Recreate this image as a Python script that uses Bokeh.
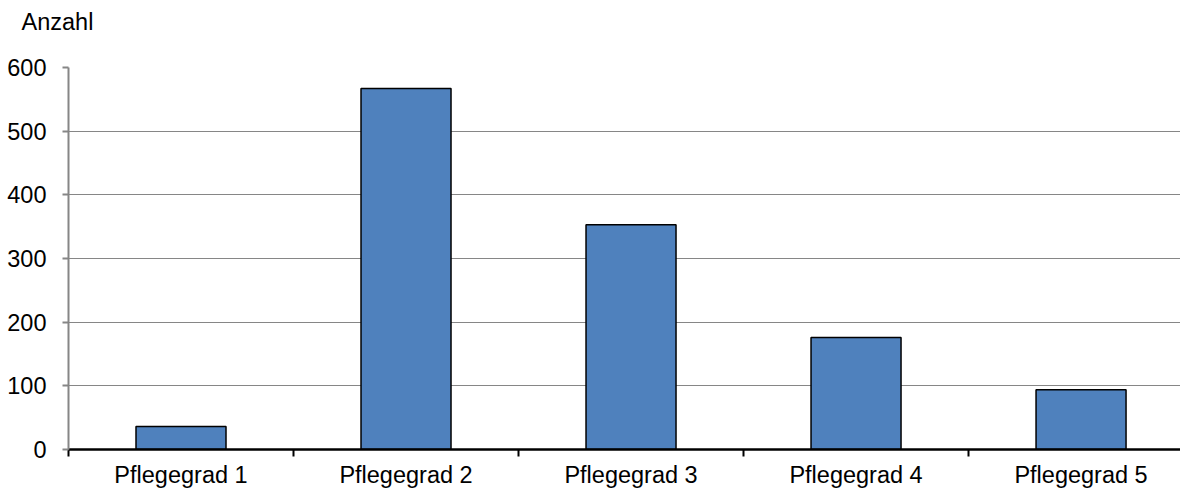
from bokeh.plotting import figure
from bokeh.models import Range1d, FixedTicker, Title
from bokeh.embed import file_html
from bokeh.resources import INLINE

categories = ["Pflegegrad 1", "Pflegegrad 2", "Pflegegrad 3", "Pflegegrad 4", "Pflegegrad 5"]
values = [36, 567, 353, 176, 94]
y_ticks = [0, 100, 200, 300, 400, 500, 600]
y_label = "Anzahl"

n = len(categories)
centers = [i + 0.5 for i in range(n)]
bounds = list(range(n + 1))

FONT = "Liberation Sans"
FS = "23.5px"

p = figure(width=1180, height=490, output_backend="svg", toolbar_location=None, title=None,
           x_range=Range1d(0, 4.942), y_range=Range1d(0, 600),
           min_border_left=68, min_border_right=0, min_border_bottom=0, min_border_top=67)
p.outline_line_color = None
p.background_fill_color = "white"
p.border_fill_color = "white"

# spacer panel between the frame and the caption
p.add_layout(Title(text=" ", text_font_size="1px", standoff=19), "above")
# caption "Anzahl" above the value axis
p.add_layout(Title(text=y_label, align="left", vertical_align="top", offset=-47,
                   text_font=FONT, text_font_size=FS, text_font_style="normal",
                   text_color="black", standoff=17), "above")

p.vbar(x=centers, top=values, bottom=0, width=0.4,
       fill_color="#4F81BD", line_color="black", line_width=1.5)

# x axis: labels at category centres, tick marks at category boundaries
xa = p.xaxis[0]
xa.ticker = FixedTicker(ticks=centers, minor_ticks=bounds)
xa.major_label_overrides = {c: lab for c, lab in zip(centers, categories)}
xa.major_tick_out = 0
xa.major_tick_in = 0
xa.minor_tick_out = 7
xa.minor_tick_in = 0
xa.minor_tick_line_color = "black"
xa.minor_tick_line_width = 2
xa.axis_line_color = "black"
xa.axis_line_width = 2.5
xa.major_label_text_font = FONT
xa.major_label_text_font_size = FS
xa.major_label_text_color = "black"
xa.major_label_standoff = 5

# y axis
ya = p.yaxis[0]
ya.ticker = FixedTicker(ticks=y_ticks)
ya.major_tick_out = 6
ya.major_tick_in = 0
ya.minor_tick_out = 0
ya.minor_tick_in = 0
ya.major_tick_line_color = "#868686"
ya.major_tick_line_width = 2
ya.axis_line_color = "#868686"
ya.axis_line_width = 2
ya.major_label_text_font = FONT
ya.major_label_text_font_size = FS
ya.major_label_text_color = "black"
ya.major_label_standoff = 16

p.xgrid.visible = False
p.ygrid.ticker = FixedTicker(ticks=y_ticks[1:])
p.ygrid.grid_line_color = "#868686"
p.ygrid.grid_line_width = 1.2

open("out.html", "w").write(file_html(p, INLINE))
